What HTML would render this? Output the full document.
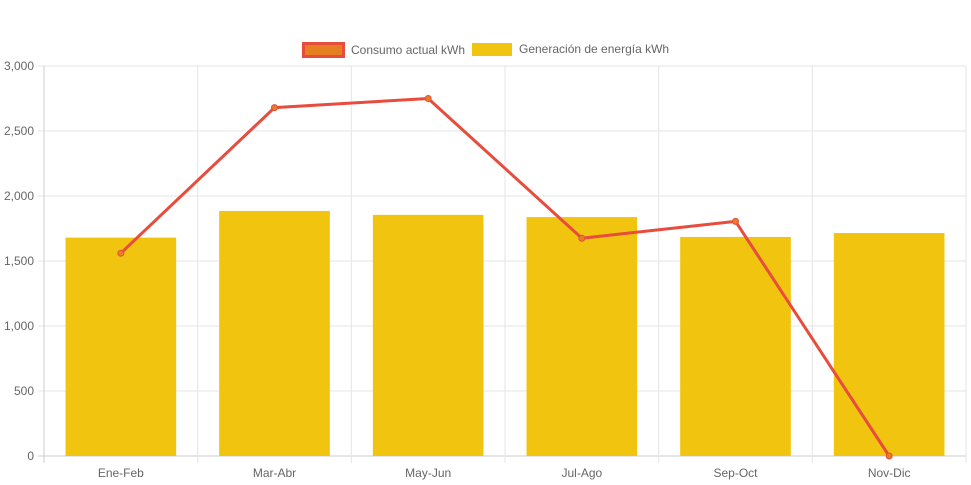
<!DOCTYPE html>
<html><head><meta charset="utf-8"><style>
body{margin:0;background:#fff;}
svg{display:block;font-family:"Liberation Sans",Arial,sans-serif;}
</style></head><body>
<svg id="c" width="971" height="485"></svg>
<script>
const categories=["Ene-Feb","Mar-Abr","May-Jun","Jul-Ago","Sep-Oct","Nov-Dic"];
const generacion=[1680,1885,1855,1838,1685,1715];
const consumo=[1560,2680,2750,1675,1805,0];
const yTicks=[0,500,1000,1500,2000,2500,3000];
const yTickLabels=["0","500","1,000","1,500","2,000","2,500","3,000"];

const NS="http://www.w3.org/2000/svg";
const svg=document.getElementById('c');
const L=44,R=966,T=66,B=456,yMax=3000;
const bw=(R-L)/categories.length;
const y=v=>B-(v/yMax)*(B-T);
const xc=i=>L+bw*(i+0.5);
function mk(tag,attrs,parent){const e=document.createElementNS(NS,tag);for(const k in attrs)e.setAttribute(k,attrs[k]);(parent||svg).appendChild(e);return e;}

// grid
yTicks.forEach((t,i)=>{
  const g=mk('line',{x1:L-6,x2:R,y1:y(t),y2:y(t),stroke:i===0?'#ccc':'#e5e5e5','stroke-width':1});
  
  
  const tx=mk('text',{x:L-10,y:y(t)+4,'text-anchor':'end','font-size':12,fill:'#666'});
  tx.textContent=yTickLabels[i];
  
  
});
for(let i=0;i<=categories.length;i++){
  const g=mk('line',{x1:L+bw*i,x2:L+bw*i,y1:T,y2:B+7,stroke:i===0?'#ccc':'#e5e5e5','stroke-width':1});
  
  
}
categories.forEach((c,i)=>{
  const tx=mk('text',{x:xc(i),y:B+21,'text-anchor':'middle','font-size':12,fill:'#666'});
  tx.textContent=c;
  
  
});
// bars
const barW=bw*0.72;
generacion.forEach((v,i)=>{
  const r=mk('rect',{x:xc(i)-barW/2,y:y(v),width:barW,height:B-y(v),fill:'#f1c40f'});
  
  
});
// line
const pts=consumo.map((v,i)=>xc(i)+','+y(v)).join(' ');
const pl=mk('polyline',{points:pts,fill:'none',stroke:'#e74c3c','stroke-width':3,'stroke-linejoin':'round'});


consumo.forEach((v,i)=>{
  const p=mk('circle',{cx:xc(i),cy:y(v),r:3,fill:'#e67e22',stroke:'#e74c3c','stroke-width':1});
  
  
});
</script>
<svg width="0" height="0"></svg>
<div style="position:absolute;left:0;top:0;width:971px;height:60px;font-family:'Liberation Sans',Arial,sans-serif;font-size:12px;color:#666;">
  <div style="position:absolute;left:302px;top:42px;display:flex;align-items:center;">
    <span style="display:inline-block;width:37px;height:10px;background:#e67e22;border:3px solid #e74c3c;"></span>
    <span style="margin-left:6px;">Consumo actual kWh</span>
  </div>
  <div style="position:absolute;left:472px;top:42px;display:flex;align-items:center;">
    <span style="display:inline-block;width:40px;height:13px;background:#f1c40f;margin-top:1px;"></span>
    <span style="margin-left:7px;">Generación de energía kWh</span>
  </div>
</div>
</body></html>
